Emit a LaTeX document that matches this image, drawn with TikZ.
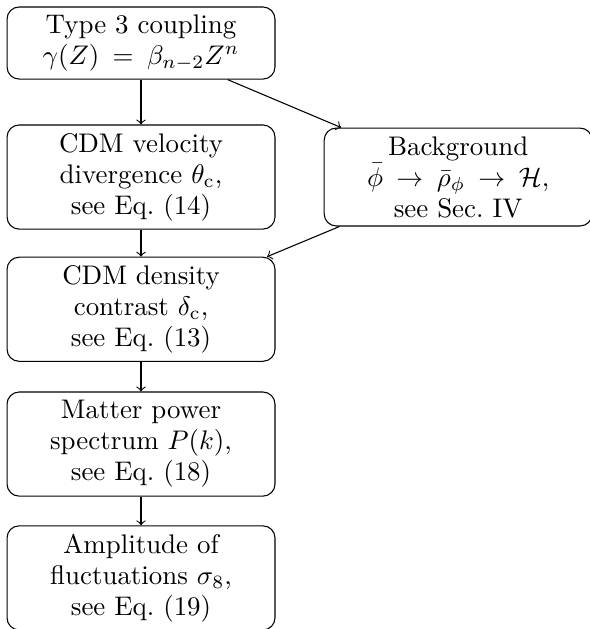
\documentclass[tikz,border=0pt]{standalone}
\newcommand{\boxfont}{\fontsize{10}{11.5}\selectfont\thickmuskip=9mu\relax}
\begin{document}
\begin{tikzpicture}[x=1pt,y=-1pt,
  box/.style={draw, line width=0.4pt, rounded corners=4.5pt, align=center,
    minimum width=99.6pt, inner sep=0pt, font=\boxfont},
  tall/.style={box, minimum height=38.7pt},
  arr/.style={->, line width=0.4pt}]
\useasboundingbox (0,0) rectangle (219,233.8);
\node[box, minimum height=26.8pt] (t) at (52.42,15.99) {Type 3 coupling\\$\gamma(Z) = \beta_{n-2}Z^n$};
\node[tall] (v) at (52.42,65.8) {CDM velocity\\divergence $\theta_{\mathrm{c}}$,\\see Eq.~(14)};
\node[box, minimum height=36.4pt] (b) at (170.3,65.8) {Background\\$\bar\phi \to \bar\rho_\phi \to \mathcal{H}$,\\see Sec.~IV};
\node[tall] (d) at (52.42,114.95) {CDM density\\contrast $\delta_{\mathrm{c}}$,\\see Eq.~(13)};
\node[tall] (p) at (52.42,165.06) {Matter power\\spectrum $P(k)$,\\see Eq.~(18)};
\node[tall] (s) at (52.42,214.8) {Amplitude of\\fluctuations $\sigma_8$,\\see Eq.~(19)};
\draw[arr] (t) -- (v);
\draw[arr] (t) -- (b);
\draw[arr] (v) -- (d);
\draw[arr] (b) -- (d);
\draw[arr] (d) -- (p);
\draw[arr] (p) -- (s);
\end{tikzpicture}
\end{document}
